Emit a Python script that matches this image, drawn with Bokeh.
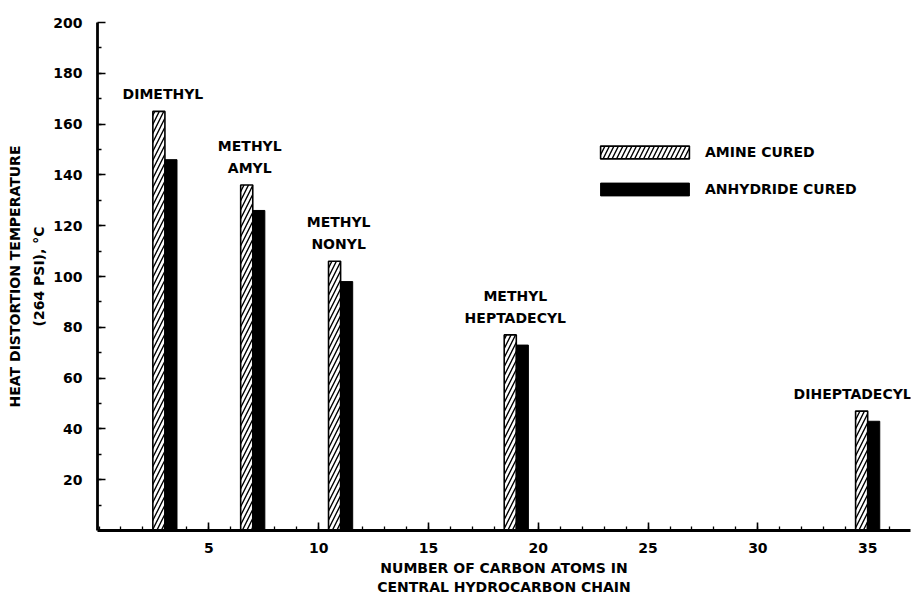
from bokeh.plotting import figure
from bokeh.models import Range1d, FixedTicker, Legend, LegendItem, ColumnDataSource
from bokeh.transform import dodge
from bokeh.core.properties import value
from bokeh.embed import file_html
from bokeh.resources import INLINE

# ---- data ----
carbon_atoms = [3, 7, 11, 19, 35]
compound_names = ["DIMETHYL", "METHYL\nAMYL", "METHYL\nNONYL", "METHYL\nHEPTADECYL", "DIHEPTADECYL"]
amine_cured = [165, 136, 106, 77, 47]
anhydride_cured = [146, 126, 98, 73, 43]
x_ticks = [5, 10, 15, 20, 25, 30, 35]
y_ticks = [20, 40, 60, 80, 100, 120, 140, 160, 180, 200]

FONT = "DejaVu Sans"

src = ColumnDataSource(dict(
    x=carbon_atoms,
    name=compound_names,
    amine=amine_cured,
    anhydride=anhydride_cured,
    xoff=[-2, -3, -2, -1, -15],
))

p = figure(width=920, height=597, output_backend="svg", toolbar_location=None,
           x_range=Range1d(-0.07, 36.95), y_range=Range1d(0, 200),
           min_border_left=97, min_border_right=10, min_border_top=22, min_border_bottom=67)
p.outline_line_color = None
p.xgrid.visible = False
p.ygrid.visible = False
p.background_fill_color = "white"
p.border_fill_color = "white"

bw = 0.55
r1 = p.vbar(x=dodge("x", -bw / 2), top="amine", width=bw, bottom=0, source=src,
            fill_color="white", line_color="black", line_width=1.6,
            hatch_pattern="/", hatch_color="black", hatch_scale=9, hatch_weight=1.4)
r2 = p.vbar(x=dodge("x", bw / 2), top="anhydride", width=bw, bottom=0, source=src,
            fill_color="black", line_color="black", line_width=1)

p.text(x="x", y="amine", text="name", source=src, x_offset="xoff", y_offset=-9,
       text_align="center", text_baseline="bottom", text_font=value(FONT),
       text_font_size="14px", text_font_style="bold", text_line_height=1.4,
       text_color="black")

# axes
for ax in (p.xaxis[0], p.yaxis[0]):
    ax.axis_line_width = 2.8
    ax.axis_line_color = "black"
    ax.major_tick_in = 8
    ax.major_tick_out = 0
    ax.minor_tick_in = 4
    ax.minor_tick_out = 0
    ax.major_tick_line_width = 1.6
    ax.minor_tick_line_width = 1.3
    ax.major_label_text_font = FONT
    ax.major_label_text_font_size = "14px"
    ax.major_label_text_font_style = "bold"
    ax.major_label_text_color = "black"
    ax.axis_label_text_font = FONT
    ax.axis_label_text_font_size = "14px"
    ax.axis_label_text_font_style = "bold"
    ax.axis_label_text_color = "black"

p.yaxis.axis_label_text_line_height = 1.5

p.xaxis.ticker = FixedTicker(ticks=x_ticks, minor_ticks=list(range(0, 37)))
p.yaxis.ticker = FixedTicker(ticks=y_ticks, minor_ticks=list(range(10, 200, 10)))
p.xaxis.major_label_standoff = 12
p.yaxis.major_label_standoff = 15
p.xaxis.axis_label = "NUMBER OF CARBON ATOMS IN\nCENTRAL HYDROCARBON CHAIN"
p.yaxis.axis_label = "HEAT DISTORTION TEMPERATURE\n(264 PSI), °C"
p.xaxis.axis_label_standoff = 4
p.yaxis.axis_label_standoff = 3

legend = Legend(items=[LegendItem(label="AMINE CURED", renderers=[r1]),
                       LegendItem(label="ANHYDRIDE CURED", renderers=[r2])],
                location=(492, 333), glyph_width=111, glyph_height=16,
                label_standoff=5, spacing=21, padding=0, margin=0,
                border_line_alpha=0, background_fill_alpha=0,
                label_text_font=FONT, label_text_font_size="14px",
                label_text_font_style="bold", label_text_color="black")
p.add_layout(legend)

open("out.html", "w").write(file_html(p, INLINE))
